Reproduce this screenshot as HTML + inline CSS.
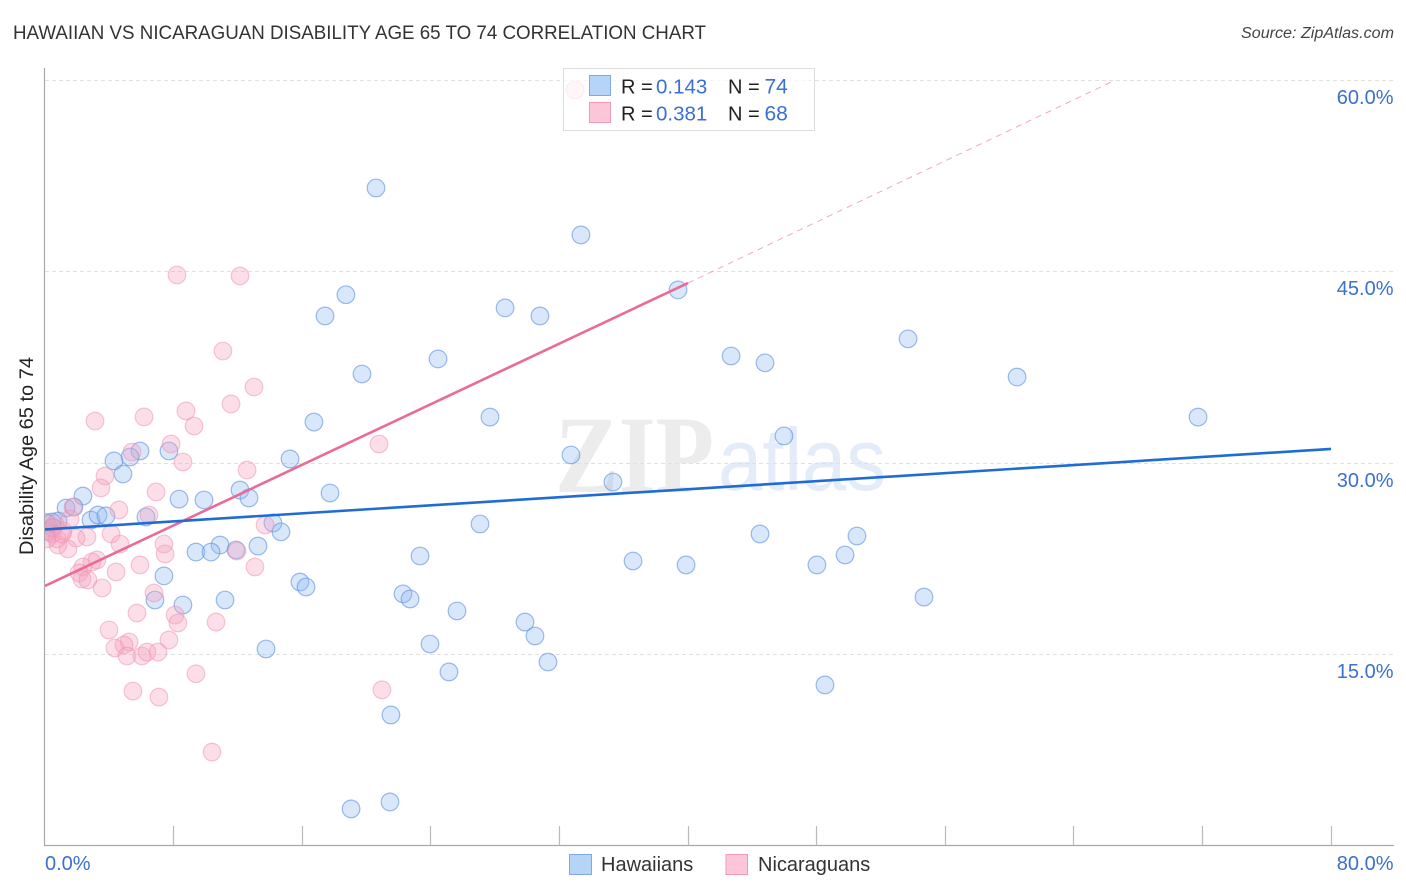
<!DOCTYPE html>
<html lang="en">
<head>
<meta charset="utf-8">
<title>Hawaiian vs Nicaraguan Disability Age 65 to 74 Correlation Chart</title>
<style>
html,body{margin:0;padding:0;background:#fff;}
svg{display:block;font-family:"Liberation Sans",sans-serif;}
</style>
</head>
<body>
<svg id="chart" width="1406" height="892" viewBox="0 0 1406 892" xmlns="http://www.w3.org/2000/svg">
  <defs>
    <clipPath id="plot-clip"><rect x="45" y="68" width="1349" height="777"/></clipPath>
  </defs>
  <rect x="0" y="0" width="1406" height="892" fill="#fff"/>
  <text x="13" y="39" font-size="19.5" fill="#333" textLength="693" lengthAdjust="spacingAndGlyphs">HAWAIIAN VS NICARAGUAN DISABILITY AGE 65 TO 74 CORRELATION CHART</text>
  <text x="1241" y="38" font-size="15.5" font-style="italic" fill="#444" textLength="153" lengthAdjust="spacingAndGlyphs">Source: ZipAtlas.com</text>
  <g>
    <text x="555" y="492" font-family="'Liberation Serif',serif" font-size="110" font-weight="bold" fill="#ececec" textLength="159" lengthAdjust="spacingAndGlyphs">ZIP</text>
    <text x="718" y="490" font-size="88" fill="#e4ecf9" textLength="168" lengthAdjust="spacingAndGlyphs">atlas</text>
  </g>
  <g id="grid"></g>
  <g id="axes"></g>
  <g id="points" clip-path="url(#plot-clip)"></g>
  <g id="lines" clip-path="url(#plot-clip)"></g>
  <text transform="translate(33,456) rotate(-90)" text-anchor="middle" font-size="19" fill="#222" textLength="198" lengthAdjust="spacingAndGlyphs">Disability Age 65 to 74</text>
  <g>
    <rect x="563.5" y="68.5" width="251" height="62" fill="#fff" fill-opacity="0.72" stroke="#dedede" stroke-width="1"/>
    <rect x="589.5" y="75.5" width="21" height="20" fill="#b6d3f8" stroke="#7fa9e3"/>
    <rect x="589.5" y="102.5" width="21" height="20" fill="#fcc6d9" stroke="#f09ab8"/>
    <text x="621" y="93.5" font-size="20" fill="#222">R =</text>
    <text x="656" y="93.5" font-size="20.5" fill="#3a70d0">0.143</text>
    <text x="728" y="93.5" font-size="20" fill="#222">N =</text>
    <text x="764.5" y="93.5" font-size="21" fill="#3a70d0">74</text>
    <text x="621" y="120.5" font-size="20" fill="#222">R =</text>
    <text x="656" y="120.5" font-size="20.5" fill="#3a70d0">0.381</text>
    <text x="728" y="120.5" font-size="20" fill="#222">N =</text>
    <text x="764.5" y="120.5" font-size="21" fill="#3a70d0">68</text>
  </g>
  <g>
    <rect x="569.5" y="854.5" width="22" height="20" fill="#b6d3f8" stroke="#7fa9e3"/>
    <text x="601" y="871" font-size="20" fill="#333">Hawaiians</text>
    <rect x="726" y="854.5" width="21.5" height="20" fill="#fcc6d9" stroke="#f09ab8"/>
    <text x="758" y="871" font-size="20" fill="#333">Nicaraguans</text>
  </g>
</svg>
<script>
const yGridValues = [15, 30, 45, 60];
const yTickLabels = ["15.0%", "30.0%", "45.0%", "60.0%"];
const xTickValues = [0, 8, 16, 24, 32, 40, 48, 56, 64, 72, 80];
const xEndLabels = ["0.0%", "80.0%"];

const hawaiiansX = [20.59,33.34,18.72,17.42,28.62,30.79,39.38,53.69,42.68,44.79,24.45,19.72,60.47,71.73,27.68,16.73,45.97,32.72,35.33,15.24,5.91,7.71,5.29,4.29,4.85,2.36,1.31,1.80,8.34,9.89,12.13,12.69,17.73,2.86,3.30,3.79,6.28,0.81,0.44,0.06,0.25,0.50,14.18,14.68,27.06,44.48,50.51,13.25,10.89,9.39,10.33,11.88,23.33,36.58,39.88,48.02,49.77,7.40,15.86,16.24,22.27,22.71,11.20,6.84,8.58,54.68,25.63,29.86,30.48,23.95,13.75,31.29,25.13,48.52,21.52,21.46,19.04];
const hawaiiansY = [51.53,47.85,43.16,41.50,42.13,41.50,43.54,39.70,38.36,37.82,38.13,36.95,36.71,33.57,33.57,33.18,32.09,30.60,28.48,30.29,30.91,30.91,30.44,30.13,29.11,27.38,26.44,26.52,27.14,27.07,27.85,27.23,27.62,25.50,25.89,25.82,25.74,25.42,25.34,25.30,24.60,24.90,25.27,24.57,25.19,24.41,24.25,23.46,23.54,22.99,22.99,23.15,22.68,22.29,21.98,21.98,22.76,21.12,20.64,20.25,19.71,19.31,19.23,19.23,18.84,19.46,18.37,17.50,16.41,15.78,15.39,14.37,13.59,12.57,10.22,3.40,2.85];

const nicaraguansX = [32.97,8.21,12.13,11.07,13.00,11.57,8.77,6.16,3.11,9.27,7.84,20.78,5.41,8.58,12.57,3.73,3.48,6.91,4.60,6.47,1.74,1.56,13.69,4.11,2.61,1.93,4.67,7.40,7.47,11.94,1.43,0.81,3.23,2.92,5.91,13.06,2.36,4.42,2.12,2.30,2.67,3.55,6.78,5.72,8.09,8.27,10.64,3.98,7.71,5.23,4.91,4.35,5.10,6.03,6.35,7.03,9.39,20.96,5.47,7.09,10.39,0.20,0.31,0.62,0.44,0.75,0.12,1.06,1.12];
const nicaraguansY = [59.21,44.71,44.63,38.75,35.93,34.60,34.05,33.58,33.26,32.87,31.46,31.46,30.83,30.05,29.42,28.95,28.01,27.70,26.29,25.89,26.52,25.58,25.11,24.41,24.17,24.09,23.62,23.62,22.84,23.07,23.23,23.54,22.37,22.21,21.98,21.82,21.82,21.43,21.35,20.88,20.80,20.17,19.78,18.21,18.05,17.43,17.50,16.88,16.10,15.94,15.70,15.47,14.84,14.84,15.15,15.15,13.45,12.19,12.09,11.62,7.31,25.19,24.80,25.19,24.41,24.02,24.02,24.41,24.64];

const hawaiiansTrendX = [0, 80];
const hawaiiansTrendY = [24.76, 31.07];
const nicaraguansTrendX = [0, 40];
const nicaraguansTrendY = [20.33, 44.08];
const nicaraguansDashX = [40, 66.6];
const nicaraguansDashY = [44.08, 60];

const SVG_NS = "http://www.w3.org/2000/svg";
function xScale(v) { return 45 + v * 16.075; }
function yScale(v) { return 845.3 - v * 12.756; }
function make(tag, attrs, parent) {
  const el = document.createElementNS(SVG_NS, tag);
  for (const k in attrs) el.setAttribute(k, attrs[k]);
  parent.appendChild(el);
  return el;
}

const gridGroup = document.getElementById("grid");
const axesGroup = document.getElementById("axes");
const pointsGroup = document.getElementById("points");
const linesGroup = document.getElementById("lines");

yGridValues.forEach(function (v, i) {
  const y = Math.round(yScale(v)) + 0.5;
  const line = make("line", {x1: 45, x2: 1394, y1: y, y2: y, stroke: "#e0e0e0", "stroke-width": 1, "stroke-dasharray": "4 3"}, gridGroup);
  
  
  const label = make("text", {x: 1393.5, y: y + 23.5, "text-anchor": "end", "font-size": 20, fill: "#3a70d0"}, axesGroup);
  
  
  label.textContent = yTickLabels[i];
});

const yAxisLine = make("line", {x1: 44.5, x2: 44.5, y1: 68, y2: 846, stroke: "#aaa", "stroke-width": 1.2}, axesGroup);


const xAxisLine = make("line", {x1: 44, x2: 1394, y1: 845.5, y2: 845.5, stroke: "#aaa", "stroke-width": 1.2}, axesGroup);



xTickValues.forEach(function (v) {
  if (v === 0) return;
  const x = Math.floor(xScale(v)) + 0.5;
  const tick = make("line", {x1: x, x2: x, y1: 826, y2: 845, stroke: "#bbb", "stroke-width": 1.2}, axesGroup);
  
  
});

const xStartLabel = make("text", {x: 45, y: 870, "font-size": 20, fill: "#3a70d0"}, axesGroup);


xStartLabel.textContent = xEndLabels[0];
const xEndLabel = make("text", {x: 1393.5, y: 870, "text-anchor": "end", "font-size": 20, fill: "#3a70d0"}, axesGroup);


xEndLabel.textContent = xEndLabels[1];

hawaiiansX.forEach(function (v, i) {
  const c = make("circle", {cx: xScale(v), cy: yScale(hawaiiansY[i]), r: 8.8, fill: "#8fbaf0", "fill-opacity": 0.34, stroke: "#5b90de", "stroke-opacity": 0.6, "stroke-width": 1.2}, pointsGroup);
  
  
});
nicaraguansX.forEach(function (v, i) {
  const c = make("circle", {cx: xScale(v), cy: yScale(nicaraguansY[i]), r: 8.8, fill: "#f8a3c0", "fill-opacity": 0.36, stroke: "#ee8fb0", "stroke-opacity": 0.5, "stroke-width": 1.2}, pointsGroup);
  
  
});

const pinkDash = make("line", {x1: xScale(nicaraguansDashX[0]), y1: yScale(nicaraguansDashY[0]), x2: xScale(nicaraguansDashX[1]), y2: yScale(nicaraguansDashY[1]), stroke: "#f0a8c2", "stroke-width": 1, "stroke-dasharray": "6 5"}, linesGroup);


const pinkLine = make("line", {x1: xScale(nicaraguansTrendX[0]), y1: yScale(nicaraguansTrendY[0]), x2: xScale(nicaraguansTrendX[1]), y2: yScale(nicaraguansTrendY[1]), stroke: "#ea6a98", "stroke-width": 2.6}, linesGroup);


const blueLine = make("line", {x1: xScale(hawaiiansTrendX[0]), y1: yScale(hawaiiansTrendY[0]), x2: xScale(hawaiiansTrendX[1]), y2: yScale(hawaiiansTrendY[1]), stroke: "#1f6cd6", "stroke-width": 2.6}, linesGroup);


</script>
</body>
</html>
